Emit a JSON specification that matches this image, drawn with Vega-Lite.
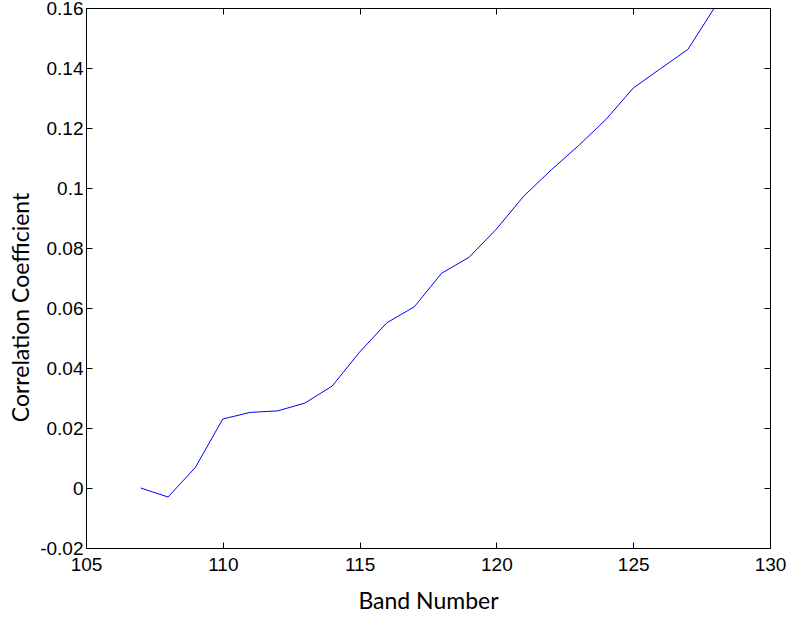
{
  "$schema": "https://vega.github.io/schema/vega-lite/v6.json",
  "width": 684,
  "height": 540,
  "autosize": {"type": "none"},
  "padding": {"left": 86, "top": 8, "right": 18, "bottom": 69},
  "background": "white",
  "config": {
    "view": {"stroke": "black", "strokeWidth": 1},
    "axis": {
      "grid": false,
      "domainColor": "black",
      "tickColor": "black",
      "tickSize": -6,
      "labelColor": "black",
      "labelFont": "Liberation Sans",
      "labelFontSize": 19,
      "labelFlush": false,
      "labelOverlap": false,
      "titleFont": "Lato",
      "titleFontSize": 23,
      "titleFontWeight": "normal",
      "titleColor": "black"
    }
  },
  "data": {
    "values": [
      {"band": 107, "corr": 0.0},
      {"band": 108, "corr": -0.003},
      {"band": 109, "corr": 0.0069},
      {"band": 110, "corr": 0.023},
      {"band": 111, "corr": 0.0252},
      {"band": 112, "corr": 0.0257},
      {"band": 113, "corr": 0.0283},
      {"band": 114, "corr": 0.034},
      {"band": 115, "corr": 0.0453},
      {"band": 116, "corr": 0.0551},
      {"band": 117, "corr": 0.0604},
      {"band": 118, "corr": 0.0716},
      {"band": 119, "corr": 0.0769},
      {"band": 120, "corr": 0.0863},
      {"band": 121, "corr": 0.0973},
      {"band": 122, "corr": 0.106},
      {"band": 123, "corr": 0.1141},
      {"band": 124, "corr": 0.1228},
      {"band": 125, "corr": 0.1333},
      {"band": 126, "corr": 0.1398},
      {"band": 127, "corr": 0.1462},
      {"band": 128, "corr": 0.1605}
    ]
  },
  "layer": [
    {
      "mark": {"type": "line", "color": "#0000FF", "strokeWidth": 1, "clip": true},
      "encoding": {
        "x": {"field": "band", "type": "quantitative", "scale": {"domain": [105, 130], "nice": false, "zero": false},
              "axis": {"orient": "bottom", "values": [105, 110, 115, 120, 125, 130], "title": "Band Number", "labelPadding": 13, "format": "d",
                       "titleBaseline": "middle", "titleY": 53}},
        "y": {"field": "corr", "type": "quantitative", "scale": {"domain": [-0.02, 0.16], "nice": false, "zero": false},
              "axis": {"orient": "left", "values": [-0.02, 0, 0.02, 0.04, 0.06, 0.08, 0.1, 0.12, 0.14, 0.16], "title": "Correlation Coefficient", "labelPadding": 9,
                       "labelExpr": "datum.value < 0 ? '-' + format(-datum.value, '~g') : format(datum.value, '~g')",
                       "titleAngle": -90, "titleAlign": "center", "titleBaseline": "middle", "titleX": -65, "titleY": 299}}
      }
    },
    {
      "mark": {"type": "line", "opacity": 0},
      "encoding": {
        "x": {"field": "band", "type": "quantitative", "scale": {"domain": [105, 130], "nice": false, "zero": false},
              "axis": {"orient": "top", "values": [105, 110, 115, 120, 125, 130], "labels": false, "title": null}},
        "y": {"field": "corr", "type": "quantitative", "scale": {"domain": [-0.02, 0.16], "nice": false, "zero": false},
              "axis": {"orient": "right", "values": [-0.02, 0, 0.02, 0.04, 0.06, 0.08, 0.1, 0.12, 0.14, 0.16], "labels": false, "title": null}}
      }
    }
  ],
  "resolve": {"axis": {"x": "independent", "y": "independent"}}
}
